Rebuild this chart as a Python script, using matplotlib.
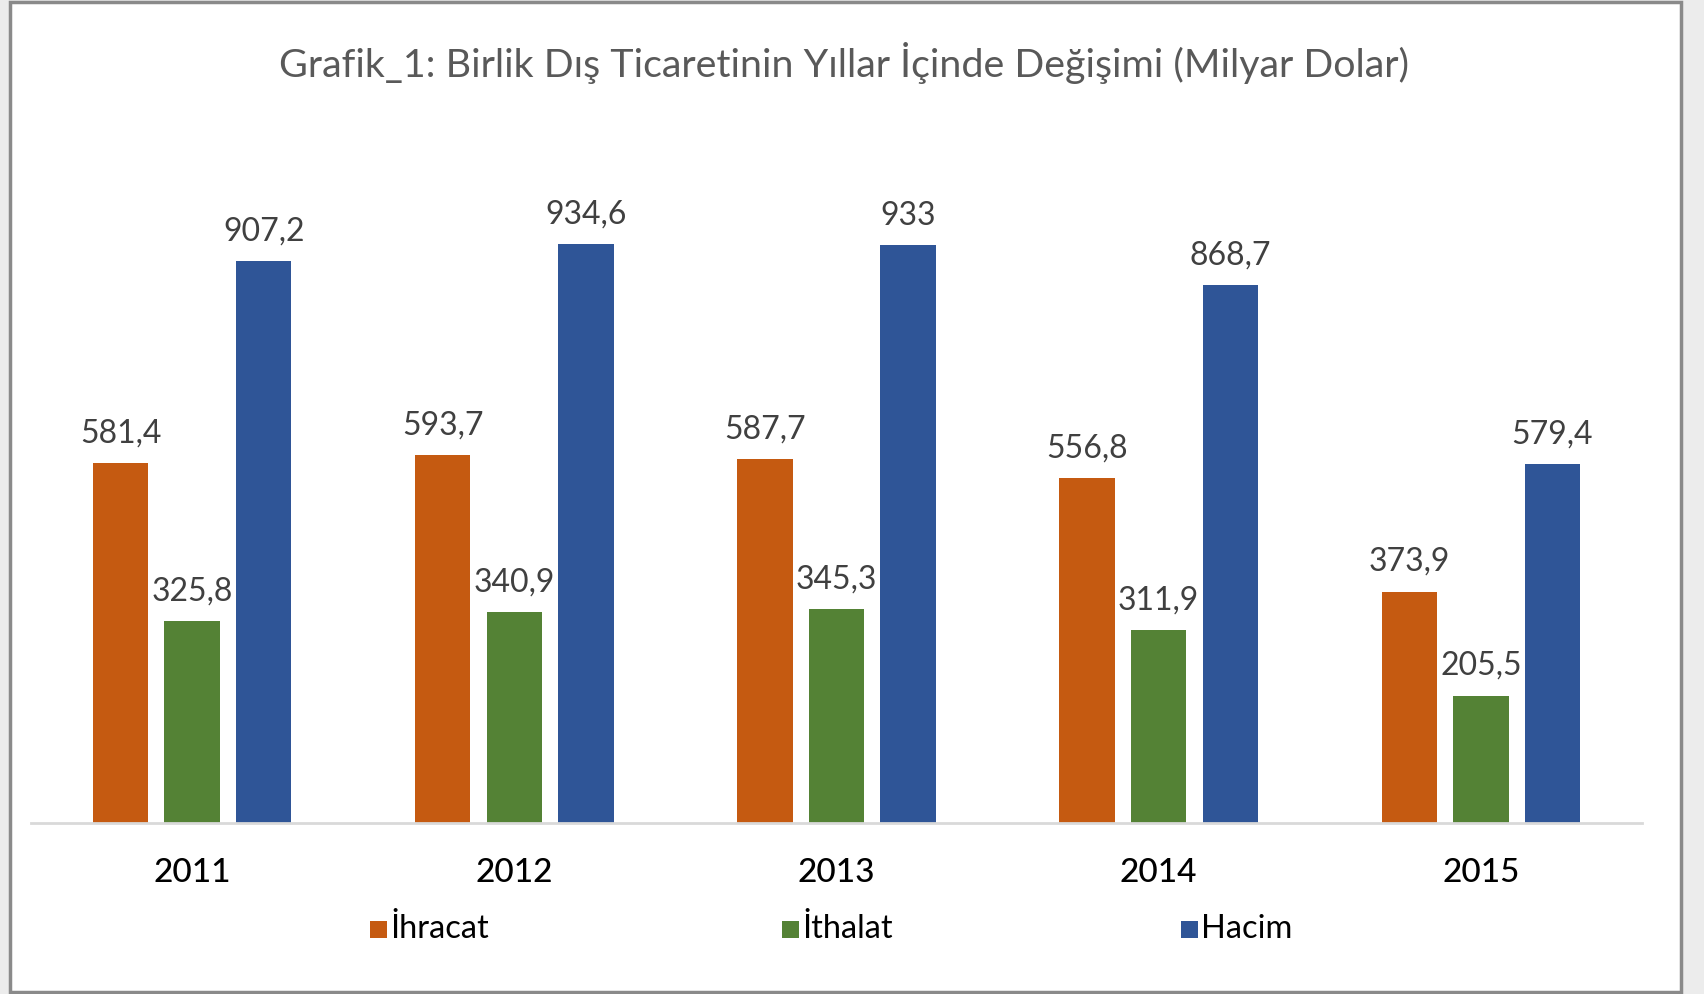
import matplotlib
matplotlib.use('Agg')
import matplotlib.pyplot as plt
from matplotlib.patches import Rectangle
import numpy as np

plt.rcParams['font.family'] = ['Lato', 'DejaVu Sans']

years = ['2011', '2012', '2013', '2014', '2015']
ihracat = [581.4, 593.7, 587.7, 556.8, 373.9]
ithalat = [325.8, 340.9, 345.3, 311.9, 205.5]
hacim = [907.2, 934.6, 933, 868.7, 579.4]
series_names = ['İhracat', 'İthalat', 'Hacim']
colors = ['#C55A11', '#548235', '#2F5597']

def fmt(v):
    s = f'{v:.1f}'.replace('.', ',')
    return s[:-2] if s.endswith(',0') else s

W, H = 1704, 994
fig = plt.figure(figsize=(W / 100, H / 100), dpi=100)
fig.patch.set_facecolor('#ececec')
fig.patches.append(Rectangle((10 / W, 2 / H), 1671 / W, 990 / H, transform=fig.transFigure,
                             facecolor='white', edgecolor='#8a8a8a', linewidth=2.5, zorder=-5))

ax = fig.add_axes([31 / W, (H - 823) / H, (1642 - 31) / W, 619 / H])
ax.set_facecolor('none')

x = np.arange(len(years))
step = 0.222
width = 0.172
for i, (vals, c) in enumerate(zip([ihracat, ithalat, hacim], colors)):
    pos = x + (i - 1) * step
    ax.bar(pos, vals, width=width, color=c, zorder=2)
    for px, v in zip(pos, vals):
        ax.annotate(fmt(v), (px, v), xytext=(0, 15), textcoords='offset points',
                    ha='center', va='baseline', fontsize=23, color='#404040')

ax.set_xlim(-0.5, len(years) - 0.5)
ax.set_ylim(0, 1000)
for s in ['top', 'right', 'left']:
    ax.spines[s].set_visible(False)
ax.spines['bottom'].set_color('#d9d9d9')
ax.spines['bottom'].set_linewidth(2)
ax.set_yticks([])
ax.set_xticks(x)
ax.set_xticklabels(years, fontsize=24, color='#000000', fontweight='medium')
ax.tick_params(axis='x', length=0, pad=25)

fig.text(844 / W, 1 - 63 / H, 'Grafik_1: Birlik Dış Ticaretinin Yıllar İçinde Değişimi (Milyar Dolar)',
         ha='center', va='center', fontsize=28.4, color='#595959')

# legend
leg_x = [370, 782, 1181]
for lx, name, c in zip(leg_x, series_names, colors):
    fig.patches.append(Rectangle((lx / W, (H - 938) / H), 17 / W, 17 / H,
                                 transform=fig.transFigure, facecolor=c, edgecolor='none'))
    fig.text((lx + 20) / W, 1 - 929 / H, name, ha='left', va='center', fontsize=23.5, color='#000000')

fig.savefig('out.png', dpi=100, facecolor=fig.get_facecolor())
